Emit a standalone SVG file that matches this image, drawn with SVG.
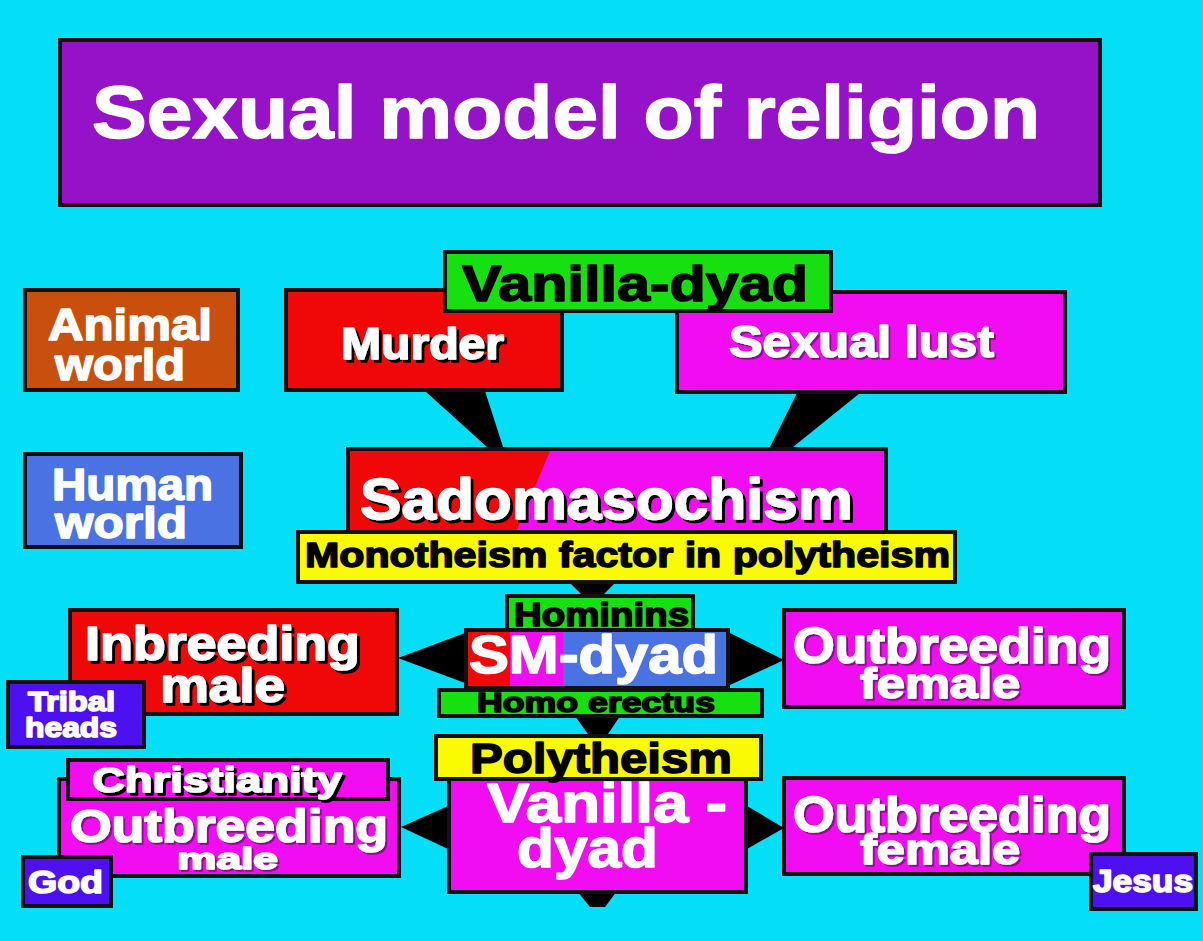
<svg xmlns="http://www.w3.org/2000/svg" width="1203" height="941" viewBox="0 0 1203 941">
<style>
.bx{stroke:#111;stroke-width:4}
.t{font-family:"Liberation Sans",Arial,sans-serif;font-weight:bold;stroke-width:1.6;stroke-linejoin:round}
.w{fill:#fff;stroke:#fff}
.k{fill:#000;stroke:#000}
.sh{filter:url(#ds)}
.shm{filter:url(#dm)}
.red{fill:#f00808}
.mag{fill:#f20cf2}
.grn{fill:#16e010}
.yel{fill:#fafa00}
.blu{fill:#4b72e3}
.vio{fill:#4d10f0}
</style>
<defs>
<filter id="ds" x="-5%" y="-20%" width="115%" height="150%"><feDropShadow dx="3" dy="3" stdDeviation="0.4" flood-color="#000"/></filter>
<filter id="dm" x="-5%" y="-20%" width="115%" height="150%"><feDropShadow dx="2" dy="2" stdDeviation="0.6" flood-color="#8a0a8a"/></filter>
</defs>
<rect width="1203" height="941" fill="#04def6"/>

<g id="connectors" fill="#000">
<polygon points="425,391 485,391 503,447 487,447"/>
<polygon points="797,393 860,393 793,447 770,447"/>
<polygon points="570,583 615,583 600,598 585,598"/>
<polygon points="465,633 465,683 398,658"/>
<polygon points="730,633 730,685 784,660"/>
<polygon points="575,716 620,716 606,737 590,737"/>
<polygon points="448,806 448,849 401,827"/>
<polygon points="747,806 747,849 784,828"/>
<polygon points="577,891 617,891 605,907 590,907"/>
</g>

<g id="title">
<rect class="bx" x="60" y="40" width="1040" height="165" fill="#9612c8" stroke-width="5"/>
<text class="t w" x="92" y="138" font-size="74" stroke-width="2.5" textLength="948" lengthAdjust="spacingAndGlyphs">Sexual model of religion</text>
</g>

<g id="animal-world">
<rect class="bx" x="25" y="290" width="213" height="100" fill="#c8500c"/>
<text class="t w" x="48" y="340" font-size="44" textLength="164" lengthAdjust="spacingAndGlyphs">Animal</text>
<text class="t w" x="55" y="380" font-size="44" textLength="130" lengthAdjust="spacingAndGlyphs">world</text>
</g>

<g id="human-world">
<rect class="bx blu" x="25" y="454" width="216" height="93"/>
<text class="t w" x="52" y="500" font-size="44" textLength="161" lengthAdjust="spacingAndGlyphs">Human</text>
<text class="t w" x="55" y="538" font-size="44" textLength="132" lengthAdjust="spacingAndGlyphs">world</text>
</g>

<g id="murder">
<rect class="bx red" x="286" y="290" width="276" height="100"/>
<text class="t w sh" x="341" y="359" font-size="45" textLength="163" lengthAdjust="spacingAndGlyphs">Murder</text>
</g>

<g id="sexual-lust">
<rect class="bx mag" x="677" y="292" width="388" height="100"/>
<text class="t w shm" x="729" y="357" font-size="45" textLength="265" lengthAdjust="spacingAndGlyphs">Sexual lust</text>
</g>

<g id="vanilla-dyad-top">
<rect class="bx grn" x="445" y="252" width="386" height="59"/>
<text class="t k" x="462" y="301" font-size="50" textLength="346" lengthAdjust="spacingAndGlyphs">Vanilla-dyad</text>
</g>

<g id="sadomasochism">
<rect class="bx mag" x="348" y="449" width="538" height="90"/>
<polygon class="red" points="350,451 550,451 514,537 350,537"/>
<text class="t w sh" x="360" y="519" font-size="57" stroke-width="2" textLength="493" lengthAdjust="spacingAndGlyphs">Sadomasochism</text>
</g>

<g id="monotheism">
<rect class="bx yel" x="298" y="532" width="657" height="50"/>
<text class="t k" x="305" y="567" font-size="35" stroke-width="1.2" textLength="645" lengthAdjust="spacingAndGlyphs">Monotheism factor in polytheism</text>
</g>

<g id="hominins">
<rect class="bx grn" x="507" y="596" width="186" height="34"/>
<text class="t k" x="514" y="626" font-size="33" stroke-width="1.2" textLength="175" lengthAdjust="spacingAndGlyphs">Hominins</text>
</g>

<g id="sm-dyad">
<rect class="bx blu" x="466" y="630" width="262" height="58"/>
<rect class="red" x="468" y="632" width="42" height="54"/>
<rect class="mag" x="510" y="632" width="53" height="54"/>
<text class="t w" x="469" y="673" font-size="53" stroke-width="2" textLength="249" lengthAdjust="spacingAndGlyphs">SM-dyad</text>
</g>

<g id="homo-erectus">
<rect class="bx grn" x="439" y="690" width="323" height="26"/>
<text class="t k" x="477" y="712" font-size="27" stroke-width="1" textLength="238" lengthAdjust="spacingAndGlyphs">Homo erectus</text>
</g>

<g id="inbreeding-male">
<rect class="bx red" x="70" y="610" width="327" height="104"/>
<text class="t w sh" x="85" y="660" font-size="49" stroke-width="2" textLength="275" lengthAdjust="spacingAndGlyphs">Inbreeding</text>
<text class="t w sh" x="160" y="702" font-size="49" stroke-width="2" textLength="125" lengthAdjust="spacingAndGlyphs">male</text>
</g>

<g id="tribal-heads">
<rect class="bx vio" x="8" y="682" width="136" height="65"/>
<text class="t w" x="28" y="711" font-size="27" stroke-width="1" textLength="87" lengthAdjust="spacingAndGlyphs">Tribal</text>
<text class="t w" x="25" y="737" font-size="27" stroke-width="1" textLength="92" lengthAdjust="spacingAndGlyphs">heads</text>
</g>

<g id="outbreeding-female-top">
<rect class="bx mag" x="784" y="610" width="340" height="97"/>
<text class="t w shm" x="793" y="663" font-size="50" stroke-width="2" textLength="318" lengthAdjust="spacingAndGlyphs">Outbreeding</text>
<text class="t w shm" x="860" y="698" font-size="42" stroke-width="2" textLength="160" lengthAdjust="spacingAndGlyphs">female</text>
</g>

<g id="vanilla-dyad-bottom">
<rect class="bx mag" x="449" y="778" width="297" height="114"/>
<text class="t w" x="487" y="822" font-size="55" stroke-width="2" textLength="240" lengthAdjust="spacingAndGlyphs">Vanilla -</text>
<text class="t w" x="517" y="867" font-size="55" stroke-width="2" textLength="141" lengthAdjust="spacingAndGlyphs">dyad</text>
</g>

<g id="polytheism">
<rect class="bx yel" x="436" y="736" width="325" height="43"/>
<text class="t k" x="470" y="773" font-size="43" textLength="262" lengthAdjust="spacingAndGlyphs">Polytheism</text>
</g>

<g id="outbreeding-male">
<rect class="bx mag" x="59" y="779" width="340" height="97"/>
<text class="t w shm" x="70" y="842" font-size="47" stroke-width="2" textLength="318" lengthAdjust="spacingAndGlyphs">Outbreeding</text>
<text class="t w shm" x="177" y="869" font-size="29" textLength="101" lengthAdjust="spacingAndGlyphs">male</text>
</g>

<g id="christianity">
<rect class="bx mag" x="68" y="760" width="320" height="39"/>
<text class="t w sh" x="92" y="792" font-size="35" textLength="250" lengthAdjust="spacingAndGlyphs">Christianity</text>
</g>

<g id="god">
<rect class="bx vio" x="23" y="857" width="88" height="49"/>
<text class="t w" x="28" y="893" font-size="32" textLength="75" lengthAdjust="spacingAndGlyphs">God</text>
</g>

<g id="outbreeding-female-bottom">
<rect class="bx mag" x="784" y="778" width="340" height="96"/>
<text class="t w shm" x="793" y="832" font-size="50" stroke-width="2" textLength="318" lengthAdjust="spacingAndGlyphs">Outbreeding</text>
<text class="t w shm" x="860" y="864" font-size="42" stroke-width="2" textLength="160" lengthAdjust="spacingAndGlyphs">female</text>
</g>

<g id="jesus">
<rect class="bx vio" x="1091" y="854" width="105" height="55"/>
<text class="t w" x="1093" y="892" font-size="31" textLength="100" lengthAdjust="spacingAndGlyphs">Jesus</text>
</g>
</svg>
